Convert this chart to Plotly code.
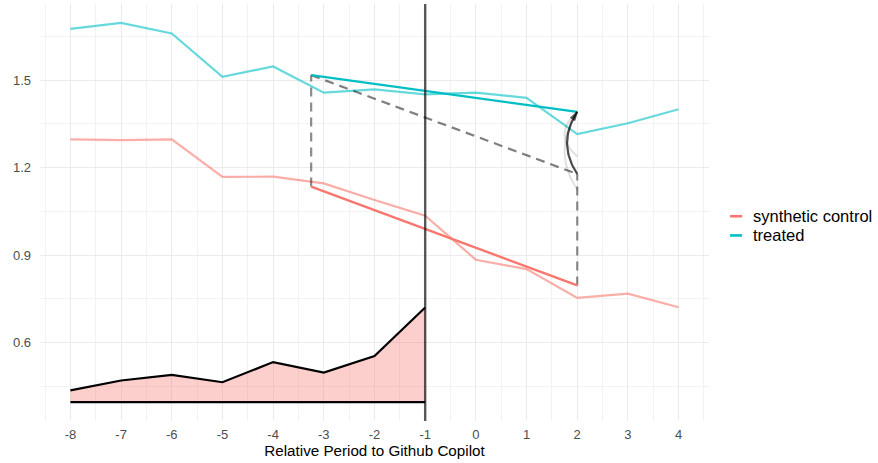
import plotly.graph_objects as go

periods = [-8, -7, -6, -5, -4, -3, -2, -1, 0, 1, 2, 3, 4]
period_labels = ["-8", "-7", "-6", "-5", "-4", "-3", "-2", "-1", "0", "1", "2", "3", "4"]
treated = [1.676, 1.696, 1.660, 1.511, 1.547, 1.457, 1.468, 1.451, 1.457, 1.439, 1.315, 1.352, 1.400]
synthetic = [1.297, 1.294, 1.297, 1.168, 1.169, 1.146, 1.089, 1.035, 0.884, 0.852, 0.753, 0.768, 0.721]

# weighted pre / post time points and averages
pre_time = -3.25
post_time = 2.0
treat_time = -1
treated_avg = [1.517, 1.391]
synthetic_avg = [1.135, 0.796]

# lambda weights ribbon
lambda_periods = [-8, -7, -6, -5, -4, -3, -2, -1]
lambda_top = [0.436, 0.470, 0.489, 0.464, 0.533, 0.497, 0.554, 0.720]
lambda_base = 0.396

# faint arrows from alternative estimates (start values)
faint_starts = [1.124, 1.238]

legend_names = ["synthetic control", "treated"]

RED = "#F8766D"
CYAN = "#00BFC4"


def arc(y0, y1, x, bulge, n=30):
    # quadratic bezier bent to the left
    xs, ys = [], []
    cx, cy = x - bulge, (y0 + y1) / 2
    for i in range(n + 1):
        t = i / n
        xs.append((1 - t) ** 2 * x + 2 * t * (1 - t) * cx + t ** 2 * x)
        ys.append((1 - t) ** 2 * y0 + 2 * t * (1 - t) * cy + t ** 2 * y1)
    return xs, ys


fig = go.Figure()

# lambda ribbon
fig.add_trace(go.Scatter(x=lambda_periods, y=[lambda_base] * len(lambda_periods), mode="lines",
                         line=dict(color="black", width=2.2), showlegend=False, hoverinfo="skip"))
fig.add_trace(go.Scatter(x=lambda_periods, y=lambda_top, mode="lines", fill="tonexty",
                         fillcolor="rgba(248,118,109,0.35)",
                         line=dict(color="black", width=2.2), showlegend=False))

# trajectories
fig.add_trace(go.Scatter(x=periods, y=synthetic, mode="lines", name=legend_names[0],
                         line=dict(color="rgba(248,118,109,0.6)", width=2.2), showlegend=False))
fig.add_trace(go.Scatter(x=periods, y=treated, mode="lines", name=legend_names[1],
                         line=dict(color="rgba(0,191,196,0.6)", width=2.2), showlegend=False))

# diff-in-diff segments
shift = treated_avg[0] - synthetic_avg[0]
dash = dict(color="rgba(0,0,0,0.45)", width=2.2, dash="9px,6px")
fig.add_trace(go.Scatter(x=[pre_time, pre_time], y=[synthetic_avg[0], treated_avg[0]], mode="lines",
                         line=dash, showlegend=False))
fig.add_trace(go.Scatter(x=[post_time, post_time], y=[synthetic_avg[1], synthetic_avg[1] + shift], mode="lines",
                         line=dash, showlegend=False))
fig.add_trace(go.Scatter(x=[pre_time, post_time], y=[treated_avg[0], synthetic_avg[1] + shift], mode="lines",
                         line=dict(color="rgba(0,0,0,0.5)", width=2.2, dash="9px,6px"), showlegend=False))
fig.add_trace(go.Scatter(x=[pre_time, post_time], y=synthetic_avg, mode="lines",
                         line=dict(color=RED, width=2.4), showlegend=False))
fig.add_trace(go.Scatter(x=[pre_time, post_time], y=treated_avg, mode="lines",
                         line=dict(color=CYAN, width=2.4), showlegend=False))

# faint arrows
for s in faint_starts:
    ax, ay = arc(s, treated_avg[1], post_time, 0.5)
    fig.add_trace(go.Scatter(x=ax, y=ay, mode="lines", line=dict(color="rgba(0,0,0,0.12)", width=2),
                             showlegend=False, hoverinfo="skip"))

# main arrow
ax, ay = arc(synthetic_avg[1] + shift, treated_avg[1], post_time, 0.4)
sizes = [0] * (len(ax) - 1) + [9]
fig.add_trace(go.Scatter(x=ax, y=ay, mode="lines+markers",
                         line=dict(color="rgba(0,0,0,0.7)", width=2.2),
                         marker=dict(symbol="arrow", size=sizes, angleref="previous", color="rgba(0,0,0,0.8)"),
                         showlegend=False, hoverinfo="skip"))

fig.add_vline(x=treat_time, line=dict(color="rgba(0,0,0,0.65)", width=2.4))

# compact legend drawn by hand (ggplot style key spacing)
for i, (name, c) in enumerate(zip(legend_names, [RED, CYAN])):
    yp = 0.491 - i * 0.046
    fig.add_shape(type="line", xref="paper", yref="paper", x0=1.0315, x1=1.0495, y0=yp, y1=yp,
                  line=dict(color=c, width=2.6))
    fig.add_annotation(text=name, xref="paper", yref="paper", x=1.0635, y=yp, xanchor="left",
                       yanchor="middle", showarrow=False, font=dict(size=16.5, color="black"))

fig.update_layout(
    width=878, height=463,
    margin=dict(l=40, r=169, t=4, b=42),
    paper_bgcolor="white", plot_bgcolor="white",
    showlegend=False,
    font=dict(family="Liberation Sans, Arial", color="#4D4D4D", size=13),
    xaxis=dict(range=[-8.6, 4.6], tickvals=periods, ticktext=period_labels, showline=False, zeroline=False,
               gridcolor="#EBEBEB", gridwidth=1.3, automargin=False,
               minor=dict(dtick=0.5, tick0=-8.5, showgrid=True, gridcolor="#F2F2F2", gridwidth=0.8),
               title=dict(text="Relative Period to Github Copilot", standoff=2,
                          font=dict(size=15.2, color="black")),
               ticks="", ticklabelstandoff=4),
    yaxis=dict(range=[0.331, 1.761], tickvals=[0.6, 0.9, 1.2, 1.5], ticktext=["0.6", "0.9", "1.2", "1.5"],
               showline=False, zeroline=False, gridcolor="#EBEBEB", gridwidth=1.3, automargin=False,
               minor=dict(tickvals=[0.45, 0.75, 1.05, 1.35, 1.65], showgrid=True, gridcolor="#F2F2F2", gridwidth=0.8),
               ticks="", ticklabelstandoff=8),
)

fig.write_html("out.html", config={"displayModeBar": False},
               post_script="document.body.style.margin='0';")
